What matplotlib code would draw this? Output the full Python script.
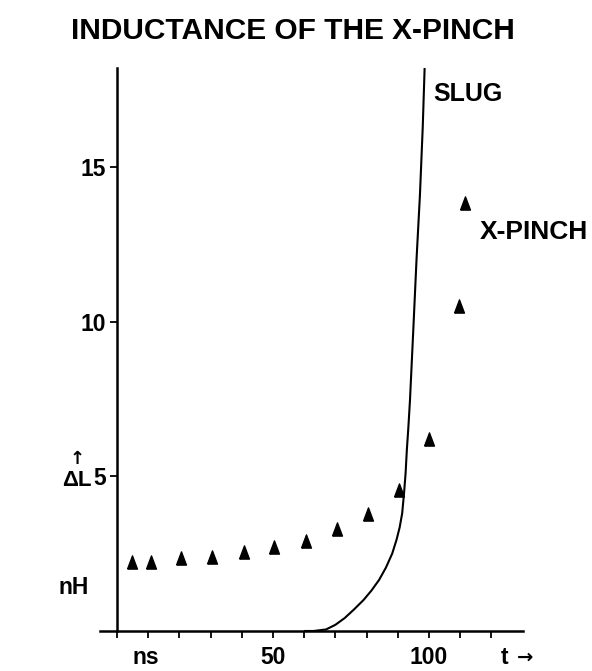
import matplotlib
matplotlib.use("Agg")
import matplotlib.pyplot as plt

plt.rcParams['font.family'] = ['Liberation Sans', 'DejaVu Sans']
plt.rcParams['font.weight'] = 'bold'

# X-pinch measured inductance (nH) vs time (ns)
xpinch_t = [4.7, 10.8, 20.5, 30.3, 40.7, 50.3, 60.5, 70.5, 80.5, 90.5, 100.1, 109.7, 111.5]
xpinch_L = [2.24, 2.24, 2.35, 2.40, 2.56, 2.72, 2.90, 3.31, 3.77, 4.55, 6.2, 10.5, 13.85]

# slug model curve
slug_t = [60, 63, 67, 70, 73, 76, 79, 81.5, 84, 86.2, 88.2, 89.6, 90.6, 91.4, 92.0, 92.5, 92.9, 93.4, 93.9, 95.0, 96.0, 97.1, 98.0, 98.6]
slug_L = [0, 0.0, 0.05, 0.2, 0.42, 0.7, 1.0, 1.3, 1.65, 2.05, 2.5, 2.95, 3.35, 3.8, 4.45, 5.1, 5.85, 6.6, 7.45, 9.8, 12.0, 14.1, 16.3, 18.2]

xticks = [0, 10, 20, 30, 40, 50, 60, 70, 80, 90, 100, 110, 120]
xticklabels = ['', '', '', '', '', '50', '', '', '', '', '100', '', '']
yticks = [5, 10, 15]
yticklabels = ['5', '10', '15']

W, H = 592, 671
fig = plt.figure(figsize=(W / 100, H / 100), dpi=100)
ax = fig.add_axes([99.8 / W, 1 - 631 / H, 422.8 / W, 563 / H])
ax.set_xlim(-5.5, 130)
ax.set_ylim(0, 18.2)

tri = [(-0.75, -1), (0.75, -1), (0, 1), (-0.75, -1)]
ax.plot(slug_t, slug_L, color='black', lw=1.5, solid_capstyle='butt')
ax.plot(xpinch_t, xpinch_L, linestyle='none', marker=tri, color='black', markersize=9.5)

for s in ['top', 'right']:
    ax.spines[s].set_visible(False)
ax.spines['left'].set_position(('data', 0))
ax.spines['left'].set_linewidth(1.8)
ax.spines['bottom'].set_linewidth(1.8)

ax.set_xticks(xticks)
ax.set_xticklabels(xticklabels, fontsize=16.5, fontweight='bold')
ax.set_yticks(yticks)
ax.set_yticklabels(yticklabels, fontsize=16.5, fontweight='bold')
ax.tick_params(axis='x', direction='out', length=5, width=1.3, pad=6)
ax.tick_params(axis='y', direction='out', length=5, width=1.3, pad=3)

ax.text(101.5, 17.35, 'SLUG', fontsize=18, fontweight='bold', va='center', ha='left')
ax.text(116.3, 12.9, 'X-PINCH', fontsize=19, fontweight='bold', va='center', ha='left')

fig.text(293 / W, 1 - 31 / H, 'INDUCTANCE OF THE X-PINCH', fontsize=21.5,
         fontweight='bold', ha='center', va='center')
fig.text(77 / W, 1 - 459 / H, '↑', fontsize=13, fontweight='bold', ha='center', va='center',
         family=['DejaVu Sans'])
fig.text(77 / W, 1 - 481 / H, 'ΔL', fontsize=16, fontweight='bold', ha='center', va='center')
fig.text(74 / W, 1 - 588 / H, 'nH', fontsize=16.5, fontweight='bold', ha='center', va='center')
fig.text(146 / W, 1 - 658 / H, 'ns', fontsize=16.5, fontweight='bold', ha='center', va='center')
fig.text(505 / W, 1 - 658 / H, 't', fontsize=16.5, fontweight='bold', ha='center', va='center')
fig.text(525 / W, 1 - 657 / H, '→', fontsize=14, fontweight='bold', ha='center', va='center',
         family=['DejaVu Sans'])

fig.savefig('out.png', dpi=100)
